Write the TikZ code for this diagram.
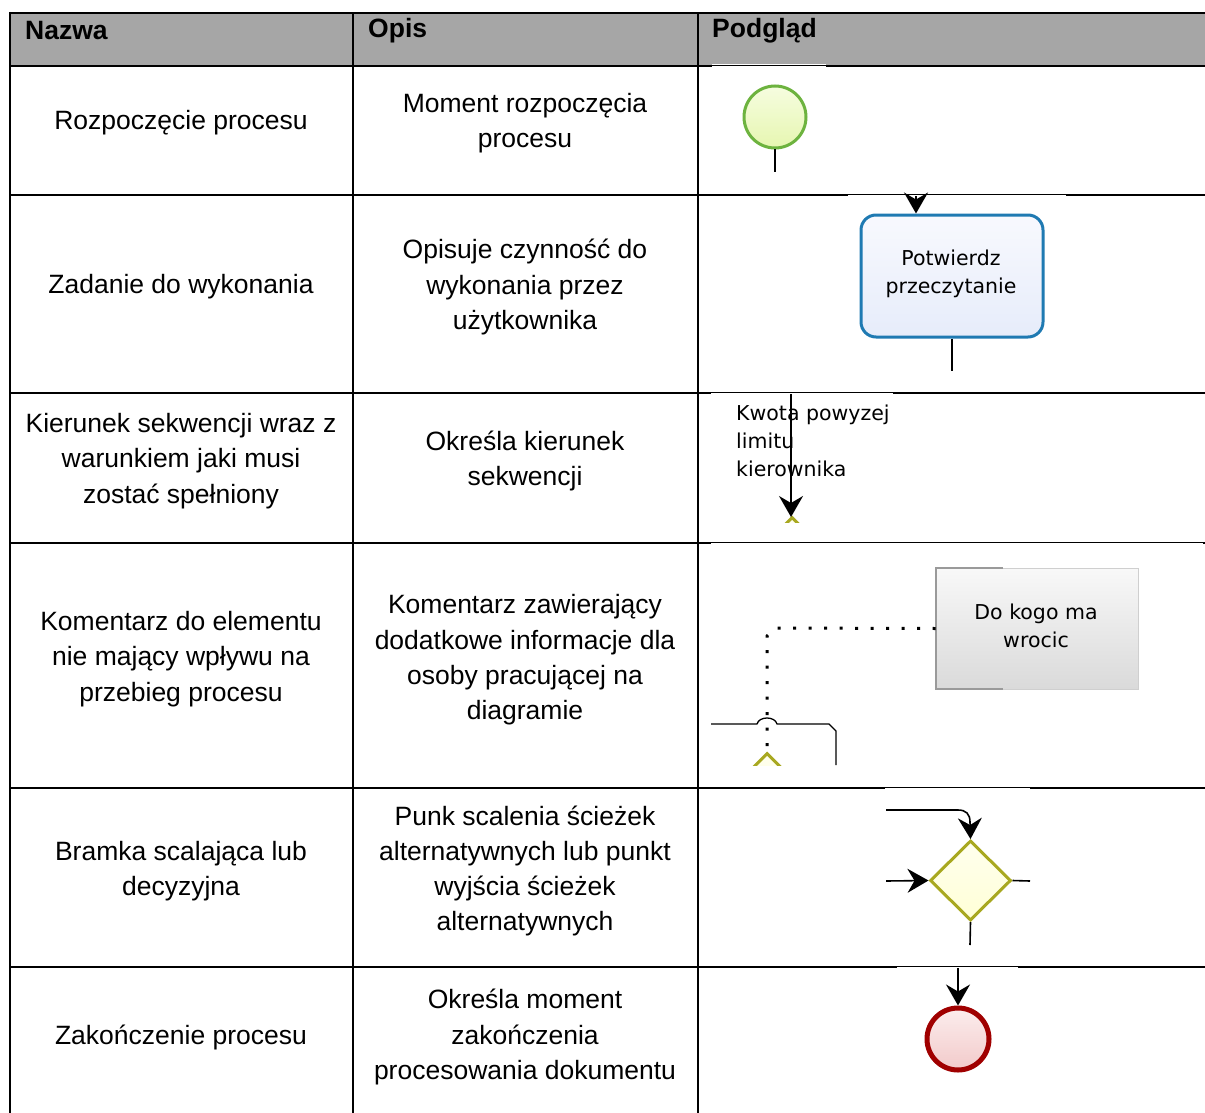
\documentclass[tikz,border=0pt]{standalone}
\usepackage{fontspec}
\setmainfont{Liberation Sans}
\newfontfamily\bpmnfont{DejaVu Sans}
\usetikzlibrary{arrows.meta,shapes.geometric}
\definecolor{hdrgray}{HTML}{A6A6A6}
\definecolor{startline}{HTML}{6DB33F}
\definecolor{startfillA}{HTML}{F6FDE0}
\definecolor{startfillB}{HTML}{E6F6B0}
\definecolor{taskline}{HTML}{1F7AB2}
\definecolor{taskfillA}{HTML}{F8F9FE}
\definecolor{taskfillB}{HTML}{E6ECFA}
\definecolor{gateline}{HTML}{A8A820}
\definecolor{gatefillA}{HTML}{FFFFEE}
\definecolor{gatefillB}{HTML}{FFFFD6}
\definecolor{endline}{HTML}{A00000}
\definecolor{endfillA}{HTML}{FCEDED}
\definecolor{endfillB}{HTML}{F2CACA}
\definecolor{notefillA}{HTML}{F8F8F8}
\definecolor{notefillB}{HTML}{DADADA}
\definecolor{noteline}{HTML}{CFCFCF}
\definecolor{notebracket}{HTML}{9A9A9A}
\tikzset{
  grid/.style={line width=2.3pt, black},
  thinseg/.style={line width=1pt, black},
  celltext/.style={font=\fontsize{26.5}{35.3}\selectfont, align=center, inner sep=0pt},
  hdrtext/.style={font=\fontsize{26.5}{35.3}\selectfont\bfseries, anchor=west, inner sep=0pt},
  bpmntext/.style={font=\bpmnfont\fontsize{20.5}{28}\selectfont, inner sep=0pt},
  flow/.style={line width=1.6pt, black},
  flowarrow/.style={flow, -{Stealth[length=21pt,width=24pt,inset=7pt]}},
  gateshape/.style={diamond, minimum width=80pt, minimum height=80pt, inner sep=0pt, draw=gateline, line width=3pt,
      shading angle=135, top color=gatefillA, bottom color=gatefillB},
}
\begin{document}
\begin{tikzpicture}[x=1pt,y=-1pt]
\useasboundingbox (0,0) rectangle (1205,1113);
% header fill
\fill[hdrgray] (10,13) rectangle (1205,66);
% grid lines
\draw[grid] (10,13) -- (1205,13);
\draw[grid] (10,12) -- (10,1113);
\draw[grid] (353,13) -- (353,1113);
\draw[grid] (698,13) -- (698,1113);
\foreach \yy in {66,195,393,543,788,967} {\draw[grid] (10,\yy) -- (1205,\yy);}
% thin segments where pictures overlap the rules
\foreach \xa/\xb/\yy in {712/826/66, 848/1066/195, 711/893/393, 711/1203/543, 885/1030/788, 897/1018/967} {
  \fill[white] (\xa,\yy-1.6) rectangle (\xb,\yy+1.6);
  \draw[thinseg] (\xa,\yy-0.6) -- (\xb,\yy-0.6);
}
% header texts
\node[hdrtext] (hnazwa) at (25,31) {Nazwa};
\node[hdrtext] (hopis) at (368,31) {Opis};
\node[hdrtext] (hpodglad) at (712,31) {Podgląd};
% column 1
\node[celltext] (n1) at (181,123) {Rozpoczęcie procesu};
\node[celltext] (n2) at (181,287) {Zadanie do wykonania};
\node[celltext] (n3) at (181,461) {Kierunek sekwencji wraz z\\warunkiem jaki musi\\zostać spełniony};
\node[celltext] (n4) at (181,659) {Komentarz do elementu\\nie mający wpływu na\\przebieg procesu};
\node[celltext] (n5) at (181,871) {Bramka scalająca lub\\decyzyjna};
\node[celltext] (n6) at (181,1037) {Zakończenie procesu};
% column 2
\node[celltext] (o1) at (525,123) {Moment rozpoczęcia\\procesu};
\node[celltext] (o2) at (525,287) {Opisuje czynność do\\wykonania przez\\użytkownika};
\node[celltext] (o3) at (525,461) {Określa kierunek\\sekwencji};
\node[celltext] (o4) at (525,660) {Komentarz zawierający\\dodatkowe informacje dla\\osoby pracującej na\\diagramie};
\node[celltext] (o5) at (525,871) {Punk scalenia ścieżek\\alternatywnych lub punkt\\wyjścia ścieżek\\alternatywnych};
\node[celltext] (o6) at (525,1037) {Określa moment\\zakończenia\\procesowania dokumentu};
% ---- row 1: start event
\node[circle, minimum size=62pt, inner sep=0pt, draw=startline, line width=3pt,
      shading angle=135, top color=startfillA, bottom color=startfillB] (start) at (775,117) {};
\coordinate (startout) at (775,172);
\draw[flow] (start.south) -- (startout);
% ---- row 2: task
\coordinate (taskin) at (916,196);
\node[rectangle, rounded corners=15pt, minimum width=182pt, minimum height=122pt, inner sep=0pt,
      draw=taskline, line width=3pt, shading angle=135, top color=taskfillA, bottom color=taskfillB] (task) at (952,276) {};
\node[bpmntext, align=center] (tasklbl) at (951,273.5) {Potwierdz\\przeczytanie};
\draw[flowarrow] (taskin) -- (taskin |- task.north);
\coordinate (taskout) at (952,371);
\draw[flow] (task.south) -- (taskout);
% ---- row 3: sequence flow with condition
\begin{scope}
\clip (700,395) rectangle (1205,522);
\node[gateshape] (gate3) at (792,557) {};
\end{scope}
\coordinate (seqtop) at (791,394);
\coordinate (seqend) at (791,517);
\draw[flowarrow] (seqtop) -- (seqend);
\node[bpmntext, align=left, anchor=west] (cond) at (736,441) {Kwota powyzej\\limitu\\kierownika};
% ---- row 4: text annotation
\node[rectangle, minimum width=202pt, minimum height=121pt, inner sep=0pt, draw=noteline, line width=1pt,
      shading angle=135, top color=notefillA, bottom color=notefillB] (note) at (1037,628.5) {};
\draw[notebracket, line width=1.2pt] (1003,568) -- (936,568) -- (936,689) -- (1003,689);
\node[bpmntext, align=center] (notelbl) at (1036,626) {Do kogo ma\\wrocic};
\begin{scope}
\clip (700,545) rectangle (1205,765);
\node[gateshape] (gate4) at (767,793) {};
\end{scope}
\coordinate (flowA) at (711,724);
\coordinate (flowB) at (836,765);
\draw[flow, line width=1.3pt] (flowA) -- (757,724) .. controls (759,716) and (775,716) .. (777,724) -- (829,724) -- (836,731) -- (flowB);
\draw[line width=3pt, dash pattern=on 3pt off 12.5pt, black] (note.west) -- (775,628) -- (767,636) -- (gate4.north);
% ---- row 5: gateway
\node[gateshape, minimum width=81pt] (gate) at (970.5,880.5) {};
\coordinate (gtopin) at (886,810);
\coordinate (gleftin) at (886,881);
\coordinate (grightout) at (1030,881);
\coordinate (gbotout) at (970,945);
\draw[flowarrow] (gtopin) -- (958,810) .. controls (966,810) and (970,814) .. (970,822) -- (gate.north);
\draw[flowarrow] (gleftin) -- (gate.west);
\draw[flow] (gate.east) -- (grightout);
\draw[flow] (gate.south) -- (gbotout);
% ---- row 6: end event
\node[circle, minimum size=62pt, inner sep=0pt, draw=endline, line width=5pt,
      shading angle=135, top color=endfillA, bottom color=endfillB] (endev) at (958,1039) {};
\coordinate (endin) at (958,968);
\draw[flowarrow] (endin) -- (endev.north);
\end{tikzpicture}
\end{document}
